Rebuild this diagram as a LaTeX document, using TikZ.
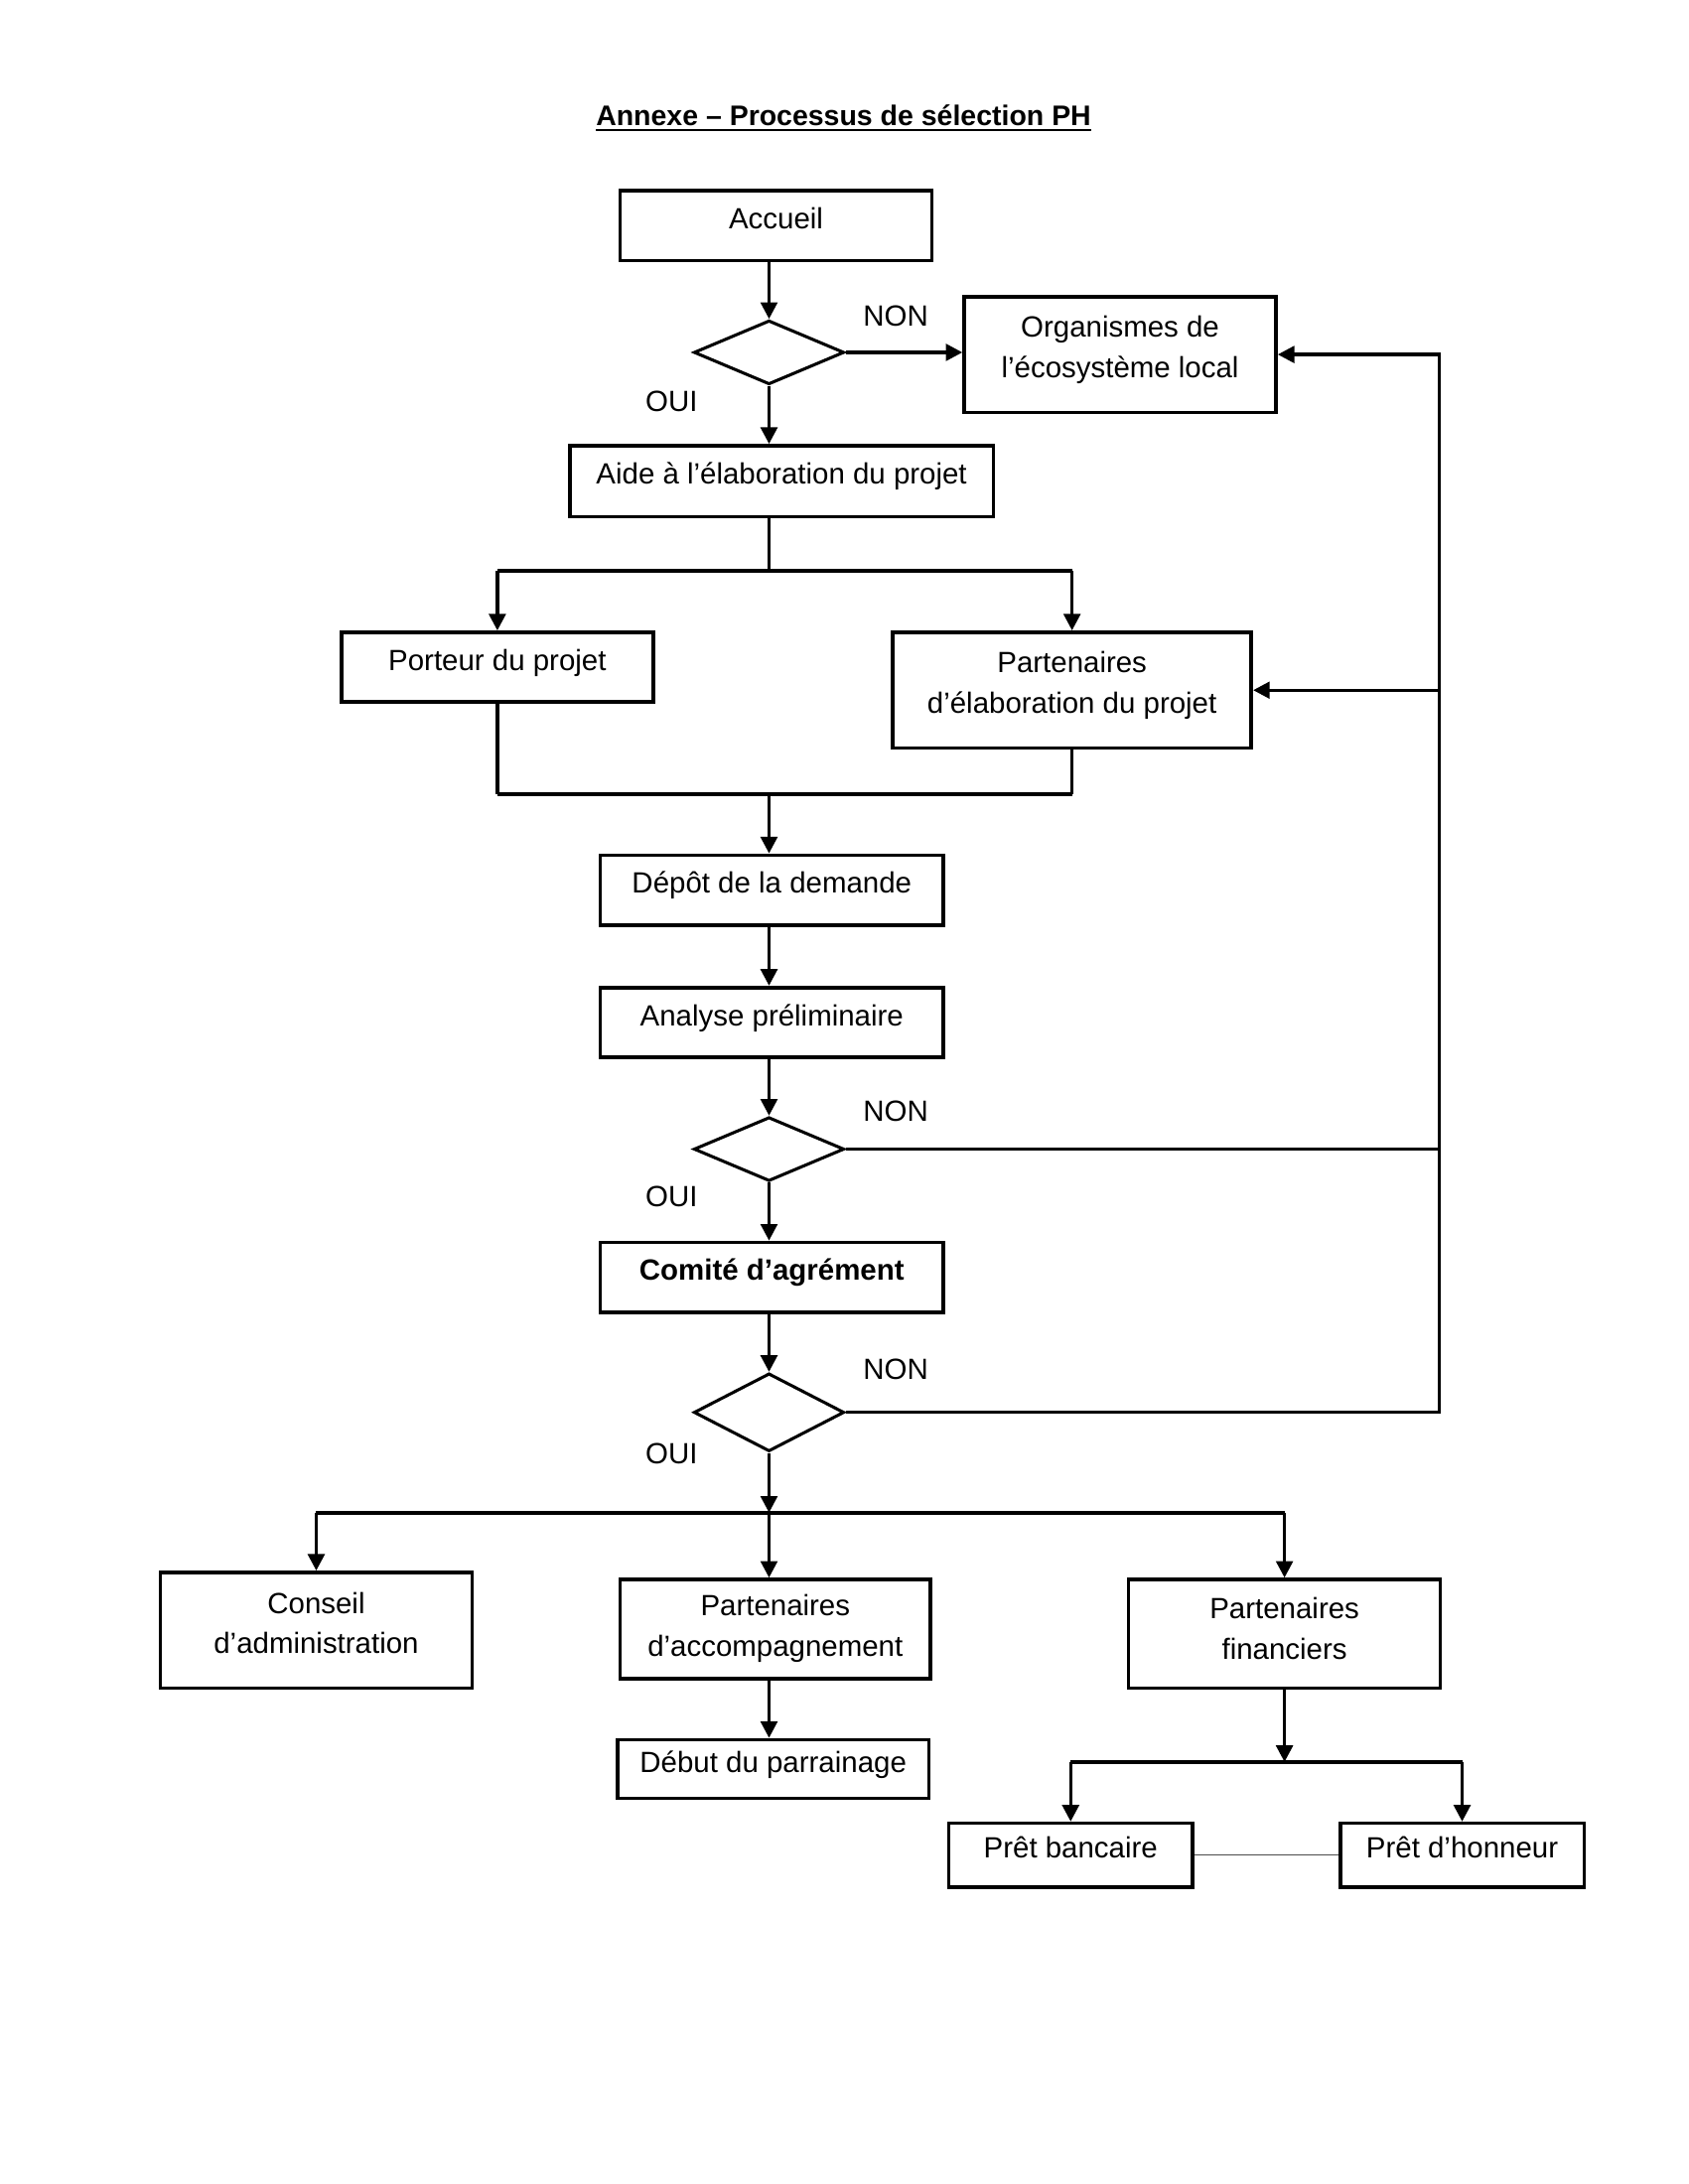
\documentclass[tikz,border=0pt]{standalone}
\usepackage{fontspec}
\setmainfont{Liberation Sans}
\usetikzlibrary{arrows.meta,shapes.geometric,calc}
\begin{document}
\begin{tikzpicture}[x=0.505pt,y=-0.505pt,
  font=\fontsize{10.6}{14.6}\selectfont,
  box/.style={draw, line width=1.3pt, align=center, inner sep=0pt, text depth=5.5pt},
  dia/.style={draw, diamond, line width=1.1pt, inner sep=0pt, aspect=2},
  conn/.style={line width=1.2pt},
  arr/.style={line width=1.2pt, -{Triangle[length=6pt,width=6pt]}},
  lbl/.style={inner sep=0pt}
]
\useasboundingbox (0,0) rectangle (1212,1568);

% title
\node[lbl] (title) at (605.5,85) {\fontsize{10.25}{12}\selectfont\textbf{\underline{Annexe – Processus de sélection PH}}};

% boxes
\node[box, minimum width=113pt, minimum height=25.3pt] (acc) at (557,162) {Accueil};
\node[box, minimum width=113pt, minimum height=42pt] (org) at (804,254.5) {Organismes de\\l’écosystème local};
\node[box, minimum width=153.5pt, minimum height=25.8pt] (aide) at (561,345.5) {Aide à l’élaboration du projet};
\node[box, minimum width=113pt, minimum height=25.3pt] (port) at (357,479) {Porteur du projet};
\node[box, minimum width=130pt, minimum height=42pt] (pelab) at (769.5,495.5) {Partenaires\\d’élaboration du projet};
\node[box, minimum width=124.3pt, minimum height=25.3pt] (dep) at (554,639) {Dépôt de la demande};
\node[box, minimum width=124.3pt, minimum height=25.3pt] (ana) at (554,734) {Analyse préliminaire};
\node[box, minimum width=124.3pt, minimum height=25.3pt] (com) at (554,917) {\textbf{Comité d’agrément}};
\node[box, minimum width=113pt, minimum height=42pt] (cons) at (227,1170.5) {Conseil\\d’administration};
\node[box, minimum width=112.6pt, minimum height=35.9pt, text depth=2.5pt] (pacc) at (556.5,1169.5) {Partenaires\\d’accompagnement};
\node[box, minimum width=113pt, minimum height=39.4pt, text depth=4pt] (pfin) at (922,1173) {Partenaires\\financiers};
\node[box, minimum width=113pt, minimum height=21.2pt] (deb) at (555,1270) {Début du parrainage};
\node[box, minimum width=88.4pt, minimum height=23.2pt] (pb) at (768.5,1332) {Prêt bancaire};
\node[box, minimum width=88.4pt, minimum height=23.2pt] (ph) at (1049.5,1332) {Prêt d’honneur};

% diamonds
\node[dia, minimum width=54.5pt, minimum height=23.2pt] (d1) at (552,253) {};
\node[dia, minimum width=54.5pt, minimum height=23.2pt] (d2) at (552,825) {};
\node[dia, minimum width=54.5pt, minimum height=28.3pt] (d3) at (552,1014) {};

% labels
\node[lbl] (non1) at (643,227) {NON};
\node[lbl] (oui1) at (482,288) {OUI};
\node[lbl] (non2) at (643,798) {NON};
\node[lbl] (oui2) at (482,859) {OUI};
\node[lbl] (non3) at (643,983) {NON};
\node[lbl] (oui3) at (482,1044) {OUI};

% helper coordinates
\coordinate (br1) at (552,410);
\coordinate (br2) at (552,570);
\coordinate (br3) at (552,1086);
\coordinate (br4) at (927,1265);
\coordinate (rx) at (1033,600);

% top part
\draw[arr] (d1.north |- acc.south) -- (d1.north);
\draw[arr] (d1.east) -- (org.west |- d1.east);
\draw[arr] (d1.south) -- (d1.south |- aide.north);
\draw[conn] (br1 |- aide.south) -- (br1);
\draw[line width=1.4pt] (port.north |- br1) -- (pelab.north |- br1);
\draw[arr] (port.north |- br1) -- (port.north);
\draw[arr] (pelab.north |- br1) -- (pelab.north);
\draw[conn] (port.south) -- (port.south |- br2);
\draw[conn] (pelab.south) -- (pelab.south |- br2);
\draw[line width=1.4pt] (port.south |- br2) -- (pelab.south |- br2);
\draw[arr] (br2) -- (br2 |- dep.north);
\draw[arr] (dep.south -| br2) -- (ana.north -| br2);
\draw[arr] (ana.south -| br2) -- (d2.north);
\draw[arr] (d2.south) -- (d2.south |- com.north);
\draw[arr] (com.south -| br2) -- (d3.north);

% right feedback loop
\draw[conn] (d2.east) -- (d2.east -| rx);
\draw[arr] (d3.east) -| (rx |- org.east) -- (org.east);
\draw[arr] (rx |- pelab.east) -- (pelab.east);

% bottom part
\draw[arr] (d3.south) -- (br3);
\draw[line width=1.4pt] (cons.north |- br3) -- (pfin.north |- br3);
\draw[arr] (cons.north |- br3) -- (cons.north);
\draw[arr] (br3) -- (br3 |- pacc.north);
\draw[arr] (pfin.north |- br3) -- (pfin.north);
\draw[arr] (pacc.south -| br3) -- (deb.north -| br3);
\draw[arr] (pfin.south) -- (pfin.south |- br4);
\draw[line width=1.4pt] (pb.north |- br4) -- (ph.north |- br4);
\draw[arr] (pb.north |- br4) -- (pb.north);
\draw[arr] (ph.north |- br4) -- (ph.north);
\draw[line width=0.4pt, black!70] (pb.east) -- (ph.west);
\end{tikzpicture}
\end{document}
